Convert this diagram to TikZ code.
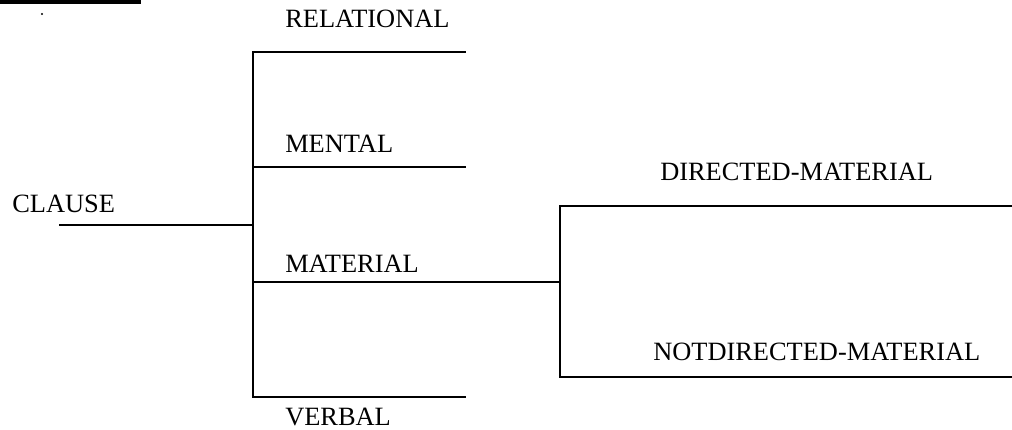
\documentclass[tikz,border=0pt]{standalone}
\usepackage{fontspec}
\setmainfont{Liberation Serif}
\begin{document}
\begin{tikzpicture}[x=0.75pt,y=-0.75pt,
  lbl/.style={anchor=base west,inner sep=0pt,font=\fontsize{19.8}{24}\selectfont},
  ln/.style={line width=1.5pt,line cap=rect}]
\useasboundingbox (0,0) rectangle (1012,429);
\fill (0,0) rectangle (141,4);
\fill (42,14) circle (1.2);
% labels
\node[lbl] (clause) at (12,212) {CLAUSE};
\node[lbl] (rel) at (285,27) {RELATIONAL};
\node[lbl] (men) at (285,152) {MENTAL};
\node[lbl] (mat) at (285,272) {MATERIAL};
\node[lbl] (verb) at (285,425) {VERBAL};
\node[lbl] (dir) at (660,180) {DIRECTED-MATERIAL};
\node[lbl] (ndir) at (653,360) {NOTDIRECTED-MATERIAL};
% coordinates
\coordinate (c0) at (60,225);
\coordinate (j1) at (253,225);
\coordinate (r1) at (253,52);  \coordinate (r2) at (465,52);
\coordinate (m1) at (253,167); \coordinate (m2) at (465,167);
\coordinate (a1) at (253,282); \coordinate (j2) at (560,282);
\coordinate (v1) at (253,397); \coordinate (v2) at (465,397);
\coordinate (d1) at (560,206); \coordinate (d2) at (1011,206);
\coordinate (n1) at (560,377); \coordinate (n2) at (1011,377);
% connectors
\draw[ln] (c0) -- (j1);
\draw[ln] (r2) -- (r1) -- (v1) -- (v2);
\draw[ln] (m1) -- (m2);
\draw[ln] (a1) -- (j2);
\draw[ln] (d2) -- (d1) -- (n1) -- (n2);
\end{tikzpicture}
\end{document}
